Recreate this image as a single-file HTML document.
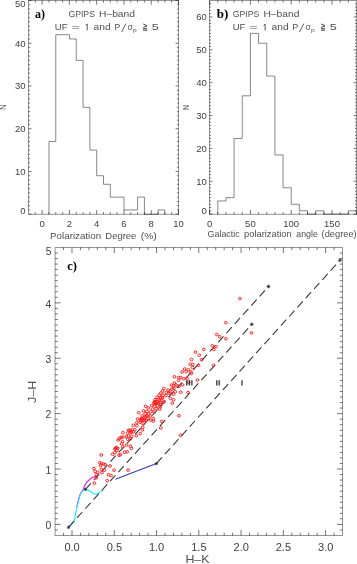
<!DOCTYPE html>
<html><head><meta charset="utf-8"><style>
html,body{margin:0;padding:0;background:#fff;}
svg{display:block;will-change:transform;}
</style></head><body>
<svg width="357" height="564" viewBox="0 0 357 564">
<rect width="357" height="564" fill="#fff"/>
<rect x="28.5" y="0.5" width="150.00" height="213.80" fill="none" stroke="#000" stroke-opacity="0.42" stroke-width="1.0"/>
<path d="M35.32 214.3v-2.1M35.32 0.5v2.1M48.96 214.3v-2.1M48.96 0.5v2.1M55.78 214.3v-2.1M55.78 0.5v2.1M62.59 214.3v-2.1M62.59 0.5v2.1M76.23 214.3v-2.1M76.23 0.5v2.1M83.05 214.3v-2.1M83.05 0.5v2.1M89.87 214.3v-2.1M89.87 0.5v2.1M103.50 214.3v-2.1M103.50 0.5v2.1M110.32 214.3v-2.1M110.32 0.5v2.1M117.14 214.3v-2.1M117.14 0.5v2.1M130.77 214.3v-2.1M130.77 0.5v2.1M137.59 214.3v-2.1M137.59 0.5v2.1M144.41 214.3v-2.1M144.41 0.5v2.1M158.05 214.3v-2.1M158.05 0.5v2.1M164.86 214.3v-2.1M164.86 0.5v2.1M171.68 214.3v-2.1M171.68 0.5v2.1M42.14 214.3v-4.2M42.14 0.5v4.2M69.41 214.3v-4.2M69.41 0.5v4.2M96.68 214.3v-4.2M96.68 0.5v4.2M123.96 214.3v-4.2M123.96 0.5v4.2M151.23 214.3v-4.2M151.23 0.5v4.2M178.50 214.3v-4.2M178.50 0.5v4.2" stroke="#000" stroke-opacity="0.55" stroke-width="1.0" fill="none"/>
<path d="M28.5 209.93h1.5M178.5 209.93h-1.5M28.5 205.65h1.5M178.5 205.65h-1.5M28.5 201.38h1.5M178.5 201.38h-1.5M28.5 197.10h1.5M178.5 197.10h-1.5M28.5 192.83h1.5M178.5 192.83h-1.5M28.5 188.56h1.5M178.5 188.56h-1.5M28.5 184.28h1.5M178.5 184.28h-1.5M28.5 180.01h1.5M178.5 180.01h-1.5M28.5 175.73h1.5M178.5 175.73h-1.5M28.5 167.19h1.5M178.5 167.19h-1.5M28.5 162.91h1.5M178.5 162.91h-1.5M28.5 158.64h1.5M178.5 158.64h-1.5M28.5 154.36h1.5M178.5 154.36h-1.5M28.5 150.09h1.5M178.5 150.09h-1.5M28.5 145.82h1.5M178.5 145.82h-1.5M28.5 141.54h1.5M178.5 141.54h-1.5M28.5 137.27h1.5M178.5 137.27h-1.5M28.5 132.99h1.5M178.5 132.99h-1.5M28.5 124.45h1.5M178.5 124.45h-1.5M28.5 120.17h1.5M178.5 120.17h-1.5M28.5 115.90h1.5M178.5 115.90h-1.5M28.5 111.62h1.5M178.5 111.62h-1.5M28.5 107.35h1.5M178.5 107.35h-1.5M28.5 103.08h1.5M178.5 103.08h-1.5M28.5 98.80h1.5M178.5 98.80h-1.5M28.5 94.53h1.5M178.5 94.53h-1.5M28.5 90.25h1.5M178.5 90.25h-1.5M28.5 81.71h1.5M178.5 81.71h-1.5M28.5 77.43h1.5M178.5 77.43h-1.5M28.5 73.16h1.5M178.5 73.16h-1.5M28.5 68.88h1.5M178.5 68.88h-1.5M28.5 64.61h1.5M178.5 64.61h-1.5M28.5 60.34h1.5M178.5 60.34h-1.5M28.5 56.06h1.5M178.5 56.06h-1.5M28.5 51.79h1.5M178.5 51.79h-1.5M28.5 47.51h1.5M178.5 47.51h-1.5M28.5 38.97h1.5M178.5 38.97h-1.5M28.5 34.69h1.5M178.5 34.69h-1.5M28.5 30.42h1.5M178.5 30.42h-1.5M28.5 26.14h1.5M178.5 26.14h-1.5M28.5 21.87h1.5M178.5 21.87h-1.5M28.5 17.60h1.5M178.5 17.60h-1.5M28.5 13.32h1.5M178.5 13.32h-1.5M28.5 9.05h1.5M178.5 9.05h-1.5M28.5 4.77h1.5M178.5 4.77h-1.5M28.5 214.20h3.0M178.5 214.20h-3.0M28.5 171.46h3.0M178.5 171.46h-3.0M28.5 128.72h3.0M178.5 128.72h-3.0M28.5 85.98h3.0M178.5 85.98h-3.0M28.5 43.24h3.0M178.5 43.24h-3.0M28.5 0.50h3.0M178.5 0.50h-3.0" stroke="#000" stroke-opacity="0.55" stroke-width="1.0" fill="none"/>
<path d="M48.96 214.20V141.54H55.78V34.69H62.59V34.69H69.41V38.97H76.23V60.34H83.05V107.35H89.87V150.09H96.68V175.73H103.50V184.28H110.32V197.10H117.14V197.10H123.96V209.93H130.77V209.93H137.59V197.10H144.41V214.20H151.23V214.20H158.05V209.93H164.86V214.20" stroke="#000" stroke-opacity="0.47" stroke-width="1" fill="none"/>
<rect x="209.5" y="0.5" width="147.00" height="213.80" fill="none" stroke="#000" stroke-opacity="0.42" stroke-width="1.0"/>
<path d="M217.76 214.3v-2.1M217.76 0.5v2.1M225.92 214.3v-2.1M225.92 0.5v2.1M234.08 214.3v-2.1M234.08 0.5v2.1M242.24 214.3v-2.1M242.24 0.5v2.1M258.57 214.3v-2.1M258.57 0.5v2.1M266.73 214.3v-2.1M266.73 0.5v2.1M274.89 214.3v-2.1M274.89 0.5v2.1M283.05 214.3v-2.1M283.05 0.5v2.1M299.37 214.3v-2.1M299.37 0.5v2.1M307.53 214.3v-2.1M307.53 0.5v2.1M315.69 214.3v-2.1M315.69 0.5v2.1M323.85 214.3v-2.1M323.85 0.5v2.1M340.18 214.3v-2.1M340.18 0.5v2.1M348.34 214.3v-2.1M348.34 0.5v2.1M209.60 214.3v-4.2M209.60 0.5v4.2M250.41 214.3v-4.2M250.41 0.5v4.2M291.21 214.3v-4.2M291.21 0.5v4.2M332.01 214.3v-4.2M332.01 0.5v4.2" stroke="#000" stroke-opacity="0.55" stroke-width="1.0" fill="none"/>
<path d="M209.5 210.81h1.5M356.5 210.81h-1.5M209.5 207.53h1.5M356.5 207.53h-1.5M209.5 204.24h1.5M356.5 204.24h-1.5M209.5 200.96h1.5M356.5 200.96h-1.5M209.5 197.67h1.5M356.5 197.67h-1.5M209.5 194.38h1.5M356.5 194.38h-1.5M209.5 191.10h1.5M356.5 191.10h-1.5M209.5 187.81h1.5M356.5 187.81h-1.5M209.5 184.53h1.5M356.5 184.53h-1.5M209.5 177.95h1.5M356.5 177.95h-1.5M209.5 174.67h1.5M356.5 174.67h-1.5M209.5 171.38h1.5M356.5 171.38h-1.5M209.5 168.10h1.5M356.5 168.10h-1.5M209.5 164.81h1.5M356.5 164.81h-1.5M209.5 161.52h1.5M356.5 161.52h-1.5M209.5 158.24h1.5M356.5 158.24h-1.5M209.5 154.95h1.5M356.5 154.95h-1.5M209.5 151.67h1.5M356.5 151.67h-1.5M209.5 145.09h1.5M356.5 145.09h-1.5M209.5 141.81h1.5M356.5 141.81h-1.5M209.5 138.52h1.5M356.5 138.52h-1.5M209.5 135.24h1.5M356.5 135.24h-1.5M209.5 131.95h1.5M356.5 131.95h-1.5M209.5 128.66h1.5M356.5 128.66h-1.5M209.5 125.38h1.5M356.5 125.38h-1.5M209.5 122.09h1.5M356.5 122.09h-1.5M209.5 118.81h1.5M356.5 118.81h-1.5M209.5 112.23h1.5M356.5 112.23h-1.5M209.5 108.95h1.5M356.5 108.95h-1.5M209.5 105.66h1.5M356.5 105.66h-1.5M209.5 102.38h1.5M356.5 102.38h-1.5M209.5 99.09h1.5M356.5 99.09h-1.5M209.5 95.80h1.5M356.5 95.80h-1.5M209.5 92.52h1.5M356.5 92.52h-1.5M209.5 89.23h1.5M356.5 89.23h-1.5M209.5 85.95h1.5M356.5 85.95h-1.5M209.5 79.37h1.5M356.5 79.37h-1.5M209.5 76.09h1.5M356.5 76.09h-1.5M209.5 72.80h1.5M356.5 72.80h-1.5M209.5 69.52h1.5M356.5 69.52h-1.5M209.5 66.23h1.5M356.5 66.23h-1.5M209.5 62.94h1.5M356.5 62.94h-1.5M209.5 59.66h1.5M356.5 59.66h-1.5M209.5 56.37h1.5M356.5 56.37h-1.5M209.5 53.09h1.5M356.5 53.09h-1.5M209.5 46.51h1.5M356.5 46.51h-1.5M209.5 43.23h1.5M356.5 43.23h-1.5M209.5 39.94h1.5M356.5 39.94h-1.5M209.5 36.66h1.5M356.5 36.66h-1.5M209.5 33.37h1.5M356.5 33.37h-1.5M209.5 30.08h1.5M356.5 30.08h-1.5M209.5 26.80h1.5M356.5 26.80h-1.5M209.5 23.51h1.5M356.5 23.51h-1.5M209.5 20.23h1.5M356.5 20.23h-1.5M209.5 13.65h1.5M356.5 13.65h-1.5M209.5 10.37h1.5M356.5 10.37h-1.5M209.5 7.08h1.5M356.5 7.08h-1.5M209.5 3.80h1.5M356.5 3.80h-1.5M209.5 214.10h2.9M356.5 214.10h-2.9M209.5 181.24h2.9M356.5 181.24h-2.9M209.5 148.38h2.9M356.5 148.38h-2.9M209.5 115.52h2.9M356.5 115.52h-2.9M209.5 82.66h2.9M356.5 82.66h-2.9M209.5 49.80h2.9M356.5 49.80h-2.9M209.5 16.94h2.9M356.5 16.94h-2.9" stroke="#000" stroke-opacity="0.55" stroke-width="1.0" fill="none"/>
<path d="M217.76 214.10V200.96H225.92V197.67H234.08V138.52H242.24V95.80H250.41V33.37H258.57V43.23H266.73V76.09H274.89V154.95H283.05V187.81H291.21V204.24H299.37V210.81H307.53V214.10H315.69V210.81H323.85V214.10H332.01V214.10H340.18V214.10H348.34V210.81H356.50V214.10" stroke="#000" stroke-opacity="0.47" stroke-width="1" fill="none"/>
<rect x="55.1" y="247.5" width="287.40" height="288.00" fill="none" stroke="#000" stroke-opacity="0.42" stroke-width="1.0"/>
<path d="M63.55 535.5v-2.7M63.55 247.5v2.7M80.45 535.5v-2.7M80.45 247.5v2.7M88.91 535.5v-2.7M88.91 247.5v2.7M97.36 535.5v-2.7M97.36 247.5v2.7M105.81 535.5v-2.7M105.81 247.5v2.7M122.72 535.5v-2.7M122.72 247.5v2.7M131.17 535.5v-2.7M131.17 247.5v2.7M139.62 535.5v-2.7M139.62 247.5v2.7M148.08 535.5v-2.7M148.08 247.5v2.7M164.98 535.5v-2.7M164.98 247.5v2.7M173.44 535.5v-2.7M173.44 247.5v2.7M181.89 535.5v-2.7M181.89 247.5v2.7M190.34 535.5v-2.7M190.34 247.5v2.7M207.25 535.5v-2.7M207.25 247.5v2.7M215.70 535.5v-2.7M215.70 247.5v2.7M224.15 535.5v-2.7M224.15 247.5v2.7M232.61 535.5v-2.7M232.61 247.5v2.7M249.51 535.5v-2.7M249.51 247.5v2.7M257.97 535.5v-2.7M257.97 247.5v2.7M266.42 535.5v-2.7M266.42 247.5v2.7M274.87 535.5v-2.7M274.87 247.5v2.7M291.78 535.5v-2.7M291.78 247.5v2.7M300.23 535.5v-2.7M300.23 247.5v2.7M308.68 535.5v-2.7M308.68 247.5v2.7M317.14 535.5v-2.7M317.14 247.5v2.7M334.04 535.5v-2.7M334.04 247.5v2.7M72.00 535.5v-5.5M72.00 247.5v5.5M114.27 535.5v-5.5M114.27 247.5v5.5M156.53 535.5v-5.5M156.53 247.5v5.5M198.80 535.5v-5.5M198.80 247.5v5.5M241.06 535.5v-5.5M241.06 247.5v5.5M283.32 535.5v-5.5M283.32 247.5v5.5M325.59 535.5v-5.5M325.59 247.5v5.5" stroke="#000" stroke-opacity="0.55" stroke-width="1.0" fill="none"/>
<path d="M55.1 529.94h2.7M342.5 529.94h-2.7M55.1 518.86h2.7M342.5 518.86h-2.7M55.1 513.32h2.7M342.5 513.32h-2.7M55.1 507.79h2.7M342.5 507.79h-2.7M55.1 502.25h2.7M342.5 502.25h-2.7M55.1 496.71h2.7M342.5 496.71h-2.7M55.1 491.17h2.7M342.5 491.17h-2.7M55.1 485.63h2.7M342.5 485.63h-2.7M55.1 480.10h2.7M342.5 480.10h-2.7M55.1 474.56h2.7M342.5 474.56h-2.7M55.1 463.48h2.7M342.5 463.48h-2.7M55.1 457.94h2.7M342.5 457.94h-2.7M55.1 452.41h2.7M342.5 452.41h-2.7M55.1 446.87h2.7M342.5 446.87h-2.7M55.1 441.33h2.7M342.5 441.33h-2.7M55.1 435.79h2.7M342.5 435.79h-2.7M55.1 430.25h2.7M342.5 430.25h-2.7M55.1 424.72h2.7M342.5 424.72h-2.7M55.1 419.18h2.7M342.5 419.18h-2.7M55.1 408.10h2.7M342.5 408.10h-2.7M55.1 402.56h2.7M342.5 402.56h-2.7M55.1 397.03h2.7M342.5 397.03h-2.7M55.1 391.49h2.7M342.5 391.49h-2.7M55.1 385.95h2.7M342.5 385.95h-2.7M55.1 380.41h2.7M342.5 380.41h-2.7M55.1 374.87h2.7M342.5 374.87h-2.7M55.1 369.34h2.7M342.5 369.34h-2.7M55.1 363.80h2.7M342.5 363.80h-2.7M55.1 352.72h2.7M342.5 352.72h-2.7M55.1 347.18h2.7M342.5 347.18h-2.7M55.1 341.65h2.7M342.5 341.65h-2.7M55.1 336.11h2.7M342.5 336.11h-2.7M55.1 330.57h2.7M342.5 330.57h-2.7M55.1 325.03h2.7M342.5 325.03h-2.7M55.1 319.49h2.7M342.5 319.49h-2.7M55.1 313.96h2.7M342.5 313.96h-2.7M55.1 308.42h2.7M342.5 308.42h-2.7M55.1 297.34h2.7M342.5 297.34h-2.7M55.1 291.80h2.7M342.5 291.80h-2.7M55.1 286.27h2.7M342.5 286.27h-2.7M55.1 280.73h2.7M342.5 280.73h-2.7M55.1 275.19h2.7M342.5 275.19h-2.7M55.1 269.65h2.7M342.5 269.65h-2.7M55.1 264.11h2.7M342.5 264.11h-2.7M55.1 258.58h2.7M342.5 258.58h-2.7M55.1 253.04h2.7M342.5 253.04h-2.7M55.1 524.40h5.5M342.5 524.40h-5.5M55.1 469.02h5.5M342.5 469.02h-5.5M55.1 413.64h5.5M342.5 413.64h-5.5M55.1 358.26h5.5M342.5 358.26h-5.5M55.1 302.88h5.5M342.5 302.88h-5.5" stroke="#000" stroke-opacity="0.55" stroke-width="1.0" fill="none"/>
<polyline points="76.70,507.20 77.80,502.40 79.00,497.70 80.20,494.20 81.80,491.40 83.50,489.30 84.60,485.70 86.20,482.90 88.50,480.60 91.70,477.80 94.80,476.60 97.20,475.80" fill="none" stroke="#f0f" stroke-width="1.1" stroke-linejoin="round"/>
<polyline points="69.10,527.00 71.90,524.20 74.20,521.50 75.00,517.20 75.80,512.50 76.90,507.10 78.10,502.40 79.30,497.70 80.40,494.20 82.00,491.50 83.90,489.90 85.50,489.30 87.80,489.90 90.00,491.00 92.50,493.00 94.60,494.20 96.50,494.00 98.50,493.10 100.50,491.90 102.80,490.40" fill="none" stroke="#10f0ff" stroke-width="1.1" stroke-linejoin="round"/>
<line x1="115.4" y1="479.2" x2="156.4" y2="463.6" stroke="#3838b0" stroke-width="1.1"/>
<line x1="68.5" y1="527.3" x2="251.8" y2="324.3" stroke="#383838" stroke-width="1.1" stroke-dasharray="8.0 4.37" stroke-dashoffset="-0.25"/>
<line x1="85.4" y1="489.4" x2="268.5" y2="286.5" stroke="#383838" stroke-width="1.1" stroke-dasharray="8.0 4.37" stroke-dashoffset="-0.25"/>
<line x1="156.4" y1="463.6" x2="340.0" y2="260.2" stroke="#383838" stroke-width="1.1" stroke-dasharray="8.0 4.37" stroke-dashoffset="-0.25"/>
<path d="M66.8 527.3h3.4M68.5 525.5999999999999v3.4M67.31 526.11l2.38 2.38M67.31 528.49l2.38 -2.38M83.7 489.4h3.4M85.4 487.7v3.4M84.21 488.21l2.38 2.38M84.21 490.59l2.38 -2.38M154.70000000000002 463.6h3.4M156.4 461.90000000000003v3.4M155.21 462.41l2.38 2.38M155.21 464.79l2.38 -2.38M249.9 324.3h3.8M251.8 322.40000000000003v3.8M250.47 322.97l2.66 2.66M250.47 325.63l2.66 -2.66M266.6 286.5h3.8M268.5 284.6v3.8M267.17 285.17l2.66 2.66M267.17 287.83l2.66 -2.66M338.1 260.2h3.8M340.0 258.3v3.8M338.67 258.87l2.66 2.66M338.67 261.53l2.66 -2.66" stroke="#222" stroke-width="0.7" fill="none"/>
<g fill="none" stroke="#ff1a1a" stroke-width="0.95">
<ellipse cx="239.9" cy="298.6" rx="1.4" ry="1.32"/>
<ellipse cx="225.8" cy="322.6" rx="1.4" ry="1.32"/>
<ellipse cx="251.5" cy="332.9" rx="1.4" ry="1.32"/>
<ellipse cx="216.8" cy="334.5" rx="1.4" ry="1.32"/>
<ellipse cx="219.7" cy="336.7" rx="1.4" ry="1.32"/>
<ellipse cx="225.8" cy="338.7" rx="1.4" ry="1.32"/>
<ellipse cx="212.3" cy="345.7" rx="1.4" ry="1.32"/>
<ellipse cx="216.1" cy="346.6" rx="1.4" ry="1.32"/>
<ellipse cx="213.9" cy="349.5" rx="1.4" ry="1.32"/>
<ellipse cx="203.8" cy="349.4" rx="1.4" ry="1.32"/>
<ellipse cx="195.4" cy="352.1" rx="1.4" ry="1.32"/>
<ellipse cx="199.3" cy="355.3" rx="1.4" ry="1.32"/>
<ellipse cx="201.7" cy="359.7" rx="1.4" ry="1.32"/>
<ellipse cx="191.5" cy="359.5" rx="1.4" ry="1.32"/>
<ellipse cx="190.3" cy="364.3" rx="1.4" ry="1.32"/>
<ellipse cx="192.8" cy="364.5" rx="1.4" ry="1.32"/>
<ellipse cx="198.5" cy="365.2" rx="1.4" ry="1.32"/>
<ellipse cx="192.6" cy="367.5" rx="1.4" ry="1.32"/>
<ellipse cx="184.6" cy="369.0" rx="1.4" ry="1.32"/>
<ellipse cx="188.4" cy="369.8" rx="1.4" ry="1.32"/>
<ellipse cx="182.1" cy="371.9" rx="1.4" ry="1.32"/>
<ellipse cx="186.3" cy="371.7" rx="1.4" ry="1.32"/>
<ellipse cx="190.9" cy="371.9" rx="1.4" ry="1.32"/>
<ellipse cx="191.3" cy="373.6" rx="1.4" ry="1.32"/>
<ellipse cx="180.8" cy="377.5" rx="1.4" ry="1.32"/>
<ellipse cx="183.8" cy="378.8" rx="1.4" ry="1.32"/>
<ellipse cx="187.1" cy="378.4" rx="1.4" ry="1.32"/>
<ellipse cx="182.5" cy="384.9" rx="1.4" ry="1.32"/>
<ellipse cx="188.8" cy="382.3" rx="1.4" ry="1.32"/>
<ellipse cx="197.5" cy="380.0" rx="1.4" ry="1.32"/>
<ellipse cx="180.8" cy="392.2" rx="1.4" ry="1.32"/>
<ellipse cx="188.0" cy="392.6" rx="1.4" ry="1.32"/>
<ellipse cx="213.5" cy="365.3" rx="1.4" ry="1.32"/>
<ellipse cx="174.4" cy="376.8" rx="1.4" ry="1.32"/>
<ellipse cx="178.6" cy="377.5" rx="1.4" ry="1.32"/>
<ellipse cx="178.6" cy="380.5" rx="1.4" ry="1.32"/>
<ellipse cx="174.4" cy="383.0" rx="1.4" ry="1.32"/>
<ellipse cx="171.4" cy="385.1" rx="1.4" ry="1.32"/>
<ellipse cx="173.5" cy="385.5" rx="1.4" ry="1.32"/>
<ellipse cx="179.0" cy="386.3" rx="1.4" ry="1.32"/>
<ellipse cx="163.9" cy="388.4" rx="1.4" ry="1.32"/>
<ellipse cx="168.1" cy="390.0" rx="1.4" ry="1.32"/>
<ellipse cx="174.0" cy="388.4" rx="1.4" ry="1.32"/>
<ellipse cx="175.2" cy="391.8" rx="1.4" ry="1.32"/>
<ellipse cx="162.6" cy="391.0" rx="1.4" ry="1.32"/>
<ellipse cx="160.9" cy="393.1" rx="1.4" ry="1.32"/>
<ellipse cx="166.4" cy="392.6" rx="1.4" ry="1.32"/>
<ellipse cx="168.9" cy="393.1" rx="1.4" ry="1.32"/>
<ellipse cx="159.2" cy="395.2" rx="1.4" ry="1.32"/>
<ellipse cx="163.0" cy="395.2" rx="1.4" ry="1.32"/>
<ellipse cx="166.0" cy="395.6" rx="1.4" ry="1.32"/>
<ellipse cx="173.5" cy="394.3" rx="1.4" ry="1.32"/>
<ellipse cx="157.1" cy="397.3" rx="1.4" ry="1.32"/>
<ellipse cx="160.9" cy="397.7" rx="1.4" ry="1.32"/>
<ellipse cx="170.6" cy="398.5" rx="1.4" ry="1.32"/>
<ellipse cx="173.5" cy="399.8" rx="1.4" ry="1.32"/>
<ellipse cx="155.0" cy="399.8" rx="1.4" ry="1.32"/>
<ellipse cx="158.4" cy="399.4" rx="1.4" ry="1.32"/>
<ellipse cx="161.8" cy="400.2" rx="1.4" ry="1.32"/>
<ellipse cx="153.8" cy="402.7" rx="1.4" ry="1.32"/>
<ellipse cx="157.1" cy="401.9" rx="1.4" ry="1.32"/>
<ellipse cx="160.1" cy="402.7" rx="1.4" ry="1.32"/>
<ellipse cx="163.9" cy="401.9" rx="1.4" ry="1.32"/>
<ellipse cx="172.3" cy="403.2" rx="1.4" ry="1.32"/>
<ellipse cx="151.7" cy="405.8" rx="1.4" ry="1.32"/>
<ellipse cx="154.6" cy="406.3" rx="1.4" ry="1.32"/>
<ellipse cx="157.6" cy="405.8" rx="1.4" ry="1.32"/>
<ellipse cx="160.1" cy="406.7" rx="1.4" ry="1.32"/>
<ellipse cx="152.5" cy="409.2" rx="1.4" ry="1.32"/>
<ellipse cx="156.3" cy="408.8" rx="1.4" ry="1.32"/>
<ellipse cx="159.7" cy="409.2" rx="1.4" ry="1.32"/>
<ellipse cx="150.8" cy="411.7" rx="1.4" ry="1.32"/>
<ellipse cx="154.2" cy="412.1" rx="1.4" ry="1.32"/>
<ellipse cx="150.4" cy="415.9" rx="1.4" ry="1.32"/>
<ellipse cx="153.4" cy="418.4" rx="1.4" ry="1.32"/>
<ellipse cx="150.8" cy="420.1" rx="1.4" ry="1.32"/>
<ellipse cx="153.4" cy="421.0" rx="1.4" ry="1.32"/>
<ellipse cx="161.8" cy="421.4" rx="1.4" ry="1.32"/>
<ellipse cx="160.8" cy="427.9" rx="1.4" ry="1.32"/>
<ellipse cx="179.0" cy="415.8" rx="1.4" ry="1.32"/>
<ellipse cx="180.6" cy="435.3" rx="1.4" ry="1.32"/>
<ellipse cx="145.6" cy="406.3" rx="1.4" ry="1.32"/>
<ellipse cx="148.2" cy="407.9" rx="1.4" ry="1.32"/>
<ellipse cx="143.5" cy="410.9" rx="1.4" ry="1.32"/>
<ellipse cx="146.9" cy="411.3" rx="1.4" ry="1.32"/>
<ellipse cx="138.7" cy="412.7" rx="1.4" ry="1.32"/>
<ellipse cx="145.2" cy="413.8" rx="1.4" ry="1.32"/>
<ellipse cx="148.6" cy="414.2" rx="1.4" ry="1.32"/>
<ellipse cx="142.3" cy="415.9" rx="1.4" ry="1.32"/>
<ellipse cx="145.6" cy="416.8" rx="1.4" ry="1.32"/>
<ellipse cx="148.2" cy="418.4" rx="1.4" ry="1.32"/>
<ellipse cx="137.6" cy="418.9" rx="1.4" ry="1.32"/>
<ellipse cx="140.6" cy="419.7" rx="1.4" ry="1.32"/>
<ellipse cx="144.0" cy="420.1" rx="1.4" ry="1.32"/>
<ellipse cx="136.8" cy="422.6" rx="1.4" ry="1.32"/>
<ellipse cx="140.2" cy="422.2" rx="1.4" ry="1.32"/>
<ellipse cx="143.1" cy="423.9" rx="1.4" ry="1.32"/>
<ellipse cx="133.4" cy="425.2" rx="1.4" ry="1.32"/>
<ellipse cx="136.8" cy="425.6" rx="1.4" ry="1.32"/>
<ellipse cx="142.7" cy="427.3" rx="1.4" ry="1.32"/>
<ellipse cx="132.2" cy="429.4" rx="1.4" ry="1.32"/>
<ellipse cx="134.7" cy="429.8" rx="1.4" ry="1.32"/>
<ellipse cx="128.4" cy="430.2" rx="1.4" ry="1.32"/>
<ellipse cx="130.9" cy="431.5" rx="1.4" ry="1.32"/>
<ellipse cx="133.4" cy="431.9" rx="1.4" ry="1.32"/>
<ellipse cx="142.3" cy="429.8" rx="1.4" ry="1.32"/>
<ellipse cx="122.9" cy="432.7" rx="1.4" ry="1.32"/>
<ellipse cx="127.6" cy="433.2" rx="1.4" ry="1.32"/>
<ellipse cx="140.2" cy="433.6" rx="1.4" ry="1.32"/>
<ellipse cx="122.9" cy="437.1" rx="1.4" ry="1.32"/>
<ellipse cx="126.3" cy="436.7" rx="1.4" ry="1.32"/>
<ellipse cx="128.4" cy="435.8" rx="1.4" ry="1.32"/>
<ellipse cx="131.8" cy="436.3" rx="1.4" ry="1.32"/>
<ellipse cx="136.4" cy="435.8" rx="1.4" ry="1.32"/>
<ellipse cx="127.6" cy="439.2" rx="1.4" ry="1.32"/>
<ellipse cx="130.5" cy="438.8" rx="1.4" ry="1.32"/>
<ellipse cx="122.5" cy="441.7" rx="1.4" ry="1.32"/>
<ellipse cx="121.7" cy="443.8" rx="1.4" ry="1.32"/>
<ellipse cx="126.7" cy="445.1" rx="1.4" ry="1.32"/>
<ellipse cx="130.5" cy="446.3" rx="1.4" ry="1.32"/>
<ellipse cx="122.9" cy="446.8" rx="1.4" ry="1.32"/>
<ellipse cx="131.3" cy="448.4" rx="1.4" ry="1.32"/>
<ellipse cx="124.6" cy="452.2" rx="1.4" ry="1.32"/>
<ellipse cx="127.1" cy="451.8" rx="1.4" ry="1.32"/>
<ellipse cx="120.4" cy="454.7" rx="1.4" ry="1.32"/>
<ellipse cx="118.2" cy="440.0" rx="1.4" ry="1.32"/>
<ellipse cx="115.6" cy="448.0" rx="1.4" ry="1.32"/>
<ellipse cx="117.7" cy="448.4" rx="1.4" ry="1.32"/>
<ellipse cx="116.9" cy="450.5" rx="1.4" ry="1.32"/>
<ellipse cx="114.8" cy="452.6" rx="1.4" ry="1.32"/>
<ellipse cx="112.7" cy="454.3" rx="1.4" ry="1.32"/>
<ellipse cx="119.0" cy="455.2" rx="1.4" ry="1.32"/>
<ellipse cx="101.3" cy="455.0" rx="1.4" ry="1.32"/>
<ellipse cx="99.8" cy="462.6" rx="1.4" ry="1.32"/>
<ellipse cx="101.4" cy="463.9" rx="1.4" ry="1.32"/>
<ellipse cx="103.5" cy="463.9" rx="1.4" ry="1.32"/>
<ellipse cx="105.2" cy="464.6" rx="1.4" ry="1.32"/>
<ellipse cx="100.6" cy="465.6" rx="1.4" ry="1.32"/>
<ellipse cx="110.0" cy="466.0" rx="1.4" ry="1.32"/>
<ellipse cx="93.9" cy="468.5" rx="1.4" ry="1.32"/>
<ellipse cx="101.4" cy="469.3" rx="1.4" ry="1.32"/>
<ellipse cx="104.4" cy="470.2" rx="1.4" ry="1.32"/>
<ellipse cx="114.1" cy="470.2" rx="1.4" ry="1.32"/>
<ellipse cx="95.1" cy="471.4" rx="1.4" ry="1.32"/>
<ellipse cx="97.7" cy="472.3" rx="1.4" ry="1.32"/>
<ellipse cx="101.9" cy="472.7" rx="1.4" ry="1.32"/>
<ellipse cx="96.4" cy="474.8" rx="1.4" ry="1.32"/>
<ellipse cx="108.6" cy="474.8" rx="1.4" ry="1.32"/>
<ellipse cx="111.1" cy="475.6" rx="1.4" ry="1.32"/>
<ellipse cx="96.4" cy="477.7" rx="1.4" ry="1.32"/>
<ellipse cx="107.2" cy="480.7" rx="1.4" ry="1.32"/>
<ellipse cx="94.3" cy="483.2" rx="1.4" ry="1.32"/>
<ellipse cx="128.1" cy="470.1" rx="1.4" ry="1.32"/>
<ellipse cx="155.0" cy="401.5" rx="1.4" ry="1.32"/>
<ellipse cx="156.5" cy="403.0" rx="1.4" ry="1.32"/>
<ellipse cx="154.5" cy="403.5" rx="1.4" ry="1.32"/>
<ellipse cx="141.5" cy="418.5" rx="1.4" ry="1.32"/>
<ellipse cx="143.0" cy="420.0" rx="1.4" ry="1.32"/>
<ellipse cx="141.0" cy="420.5" rx="1.4" ry="1.32"/>
<ellipse cx="129.5" cy="430.5" rx="1.4" ry="1.32"/>
<ellipse cx="131.0" cy="432.5" rx="1.4" ry="1.32"/>
<ellipse cx="121.0" cy="437.5" rx="1.4" ry="1.32"/>
<ellipse cx="119.5" cy="438.5" rx="1.4" ry="1.32"/>
<ellipse cx="115.0" cy="449.0" rx="1.4" ry="1.32"/>
<ellipse cx="116.5" cy="447.5" rx="1.4" ry="1.32"/>
<ellipse cx="158.5" cy="403.5" rx="1.4" ry="1.32"/>
<ellipse cx="161.0" cy="404.5" rx="1.4" ry="1.32"/>
<ellipse cx="156.0" cy="404.0" rx="1.4" ry="1.32"/>
<ellipse cx="159.5" cy="400.5" rx="1.4" ry="1.32"/>
<ellipse cx="162.5" cy="398.0" rx="1.4" ry="1.32"/>
<ellipse cx="144.5" cy="417.5" rx="1.4" ry="1.32"/>
<ellipse cx="147.0" cy="416.0" rx="1.4" ry="1.32"/>
<ellipse cx="142.0" cy="419.0" rx="1.4" ry="1.32"/>
<ellipse cx="146.0" cy="420.5" rx="1.4" ry="1.32"/>
<ellipse cx="172.0" cy="389.0" rx="1.4" ry="1.32"/>
<ellipse cx="176.0" cy="385.0" rx="1.4" ry="1.32"/>
<ellipse cx="170.0" cy="392.0" rx="1.4" ry="1.32"/>
</g>
<path d="M186.8 380.2V385.6M189.4 380.2V385.6M191.9 380.2V385.6M216.8 380.2V385.6M219.2 380.2V385.6M242.0 380.2V385.6" stroke="#2a2a2a" stroke-width="1.25" fill="none"/>
<text x="68.4" y="17.2" font-family="'Liberation Sans', sans-serif" font-size="9.0" font-weight="normal" fill="#505050" textLength="26.536" lengthAdjust="spacingAndGlyphs">GPIPS</text>
<text x="99.0" y="17.2" font-family="'Liberation Sans', sans-serif" font-size="9.0" font-weight="normal" fill="#505050" textLength="36.029" lengthAdjust="spacingAndGlyphs">H&#8211;band</text>
<text x="54.8" y="30.4" font-family="'Liberation Sans', sans-serif" font-size="9.0" font-weight="normal" fill="#505050" textLength="12.716" lengthAdjust="spacingAndGlyphs">UF</text>
<text x="71.4" y="30.0" font-family="'Liberation Sans', sans-serif" font-size="9.0" font-weight="normal" fill="#505050" textLength="8.357" lengthAdjust="spacingAndGlyphs">=</text>
<text x="93.6" y="30.4" font-family="'Liberation Sans', sans-serif" font-size="9.0" font-weight="normal" fill="#505050" textLength="17.095" lengthAdjust="spacingAndGlyphs">and</text>
<text x="114.6" y="30.4" font-family="'Liberation Sans', sans-serif" font-size="9.0" font-weight="normal" fill="#505050" textLength="5.743" lengthAdjust="spacingAndGlyphs">P</text>
<text x="127.6" y="30.4" font-family="'Liberation Sans', sans-serif" font-size="9.0" font-weight="normal" fill="#505050" textLength="5.096" lengthAdjust="spacingAndGlyphs">&#963;</text>
<text x="133.0" y="32.4" font-family="'Liberation Sans', sans-serif" font-size="5.0" font-weight="normal" fill="#505050" textLength="3.647" lengthAdjust="spacingAndGlyphs">p</text>
<text x="151.8" y="30.4" font-family="'Liberation Sans', sans-serif" font-size="9.0" font-weight="normal" fill="#505050" textLength="7.062" lengthAdjust="spacingAndGlyphs">5</text>
<text x="232.8" y="17.2" font-family="'Liberation Sans', sans-serif" font-size="9.0" font-weight="normal" fill="#505050" textLength="26.536" lengthAdjust="spacingAndGlyphs">GPIPS</text>
<text x="263.4" y="17.2" font-family="'Liberation Sans', sans-serif" font-size="9.0" font-weight="normal" fill="#505050" textLength="36.029" lengthAdjust="spacingAndGlyphs">H&#8211;band</text>
<text x="232.7" y="30.4" font-family="'Liberation Sans', sans-serif" font-size="9.0" font-weight="normal" fill="#505050" textLength="12.716" lengthAdjust="spacingAndGlyphs">UF</text>
<text x="249.3" y="30.0" font-family="'Liberation Sans', sans-serif" font-size="9.0" font-weight="normal" fill="#505050" textLength="8.357" lengthAdjust="spacingAndGlyphs">=</text>
<text x="271.5" y="30.4" font-family="'Liberation Sans', sans-serif" font-size="9.0" font-weight="normal" fill="#505050" textLength="17.095" lengthAdjust="spacingAndGlyphs">and</text>
<text x="292.5" y="30.4" font-family="'Liberation Sans', sans-serif" font-size="9.0" font-weight="normal" fill="#505050" textLength="5.743" lengthAdjust="spacingAndGlyphs">P</text>
<text x="305.5" y="30.4" font-family="'Liberation Sans', sans-serif" font-size="9.0" font-weight="normal" fill="#505050" textLength="5.096" lengthAdjust="spacingAndGlyphs">&#963;</text>
<text x="310.9" y="32.4" font-family="'Liberation Sans', sans-serif" font-size="5.0" font-weight="normal" fill="#505050" textLength="3.647" lengthAdjust="spacingAndGlyphs">p</text>
<text x="329.7" y="30.4" font-family="'Liberation Sans', sans-serif" font-size="9.0" font-weight="normal" fill="#505050" textLength="7.062" lengthAdjust="spacingAndGlyphs">5</text>
<text x="35.1" y="17.6" font-family="'Liberation Serif', serif" font-size="11.5" font-weight="bold" fill="#000" textLength="10.044" lengthAdjust="spacingAndGlyphs">a)</text>
<text x="216.8" y="17.6" font-family="'Liberation Serif', serif" font-size="11.5" font-weight="bold" fill="#000" textLength="11.56" lengthAdjust="spacingAndGlyphs">b)</text>
<text x="67.2" y="269.6" font-family="'Liberation Serif', serif" font-size="11.5" font-weight="bold" fill="#000" textLength="9.751" lengthAdjust="spacingAndGlyphs">c)</text>
<text x="50.1" y="238.6" font-family="'Liberation Sans', sans-serif" font-size="9.6" font-weight="normal" fill="#505050" textLength="51.008" lengthAdjust="spacingAndGlyphs">Polarization</text>
<text x="105.3" y="238.6" font-family="'Liberation Sans', sans-serif" font-size="9.6" font-weight="normal" fill="#505050" textLength="31.056" lengthAdjust="spacingAndGlyphs">Degree</text>
<text x="140.7" y="238.6" font-family="'Liberation Sans', sans-serif" font-size="9.6" font-weight="normal" fill="#505050" textLength="16.117" lengthAdjust="spacingAndGlyphs">(%)</text>
<text x="207.6" y="236.6" font-family="'Liberation Sans', sans-serif" font-size="9.6" font-weight="normal" fill="#505050" textLength="32.047" lengthAdjust="spacingAndGlyphs">Galactic</text>
<text x="244.1" y="236.6" font-family="'Liberation Sans', sans-serif" font-size="9.6" font-weight="normal" fill="#505050" textLength="47.542" lengthAdjust="spacingAndGlyphs">polarization</text>
<text x="296.3" y="236.6" font-family="'Liberation Sans', sans-serif" font-size="9.6" font-weight="normal" fill="#505050" textLength="21.53" lengthAdjust="spacingAndGlyphs">angle</text>
<text x="321.6" y="236.6" font-family="'Liberation Sans', sans-serif" font-size="9.6" font-weight="normal" fill="#505050" textLength="35.043" lengthAdjust="spacingAndGlyphs">(degree)</text>
<text x="185.4" y="562.6" font-family="'Liberation Sans', sans-serif" font-size="10.2" font-weight="normal" fill="#505050" textLength="24.114" lengthAdjust="spacingAndGlyphs">H&#8211;K</text>
<text transform="translate(35.8 402.9) rotate(-90)" x="0" y="0" font-family="'Liberation Sans', sans-serif" font-size="10.2" font-weight="normal" fill="#505050" textLength="22.176" lengthAdjust="spacingAndGlyphs">J&#8211;H</text>
<text transform="translate(6.0 110.1) rotate(-90)" x="0" y="0" font-family="'Liberation Sans', sans-serif" font-size="9.6" font-weight="normal" fill="#505050" textLength="5.734" lengthAdjust="spacingAndGlyphs">N</text>
<text transform="translate(188.9 110.0) rotate(-90)" x="0" y="0" font-family="'Liberation Sans', sans-serif" font-size="9.6" font-weight="normal" fill="#505050" textLength="5.0" lengthAdjust="spacingAndGlyphs">N</text>
<path d="M85.7 25.5L87.2 24.1V30.4" stroke="#404040" stroke-width="0.9" fill="none"/>
<path d="M121.6 32.0L125.9 23.6" stroke="#404040" stroke-width="0.85" fill="none"/>
<path d="M143.3 24.0L147.1 25.8L143.3 27.5M143.1 28.7H147.2M143.1 30.2H147.2" stroke="#404040" stroke-width="1.0" fill="none"/>
<path d="M263.6 25.5L265.1 24.1V30.4" stroke="#404040" stroke-width="0.9" fill="none"/>
<path d="M299.5 32.0L303.8 23.6" stroke="#404040" stroke-width="0.85" fill="none"/>
<path d="M321.2 24.0L325.0 25.8L321.2 27.5M321.0 28.7H325.1M321.0 30.2H325.1" stroke="#404040" stroke-width="1.0" fill="none"/>
<g fill="#404040" font-family="'Liberation Sans', sans-serif">
<text x="42.1" y="227.2" font-size="9.5" text-anchor="middle" >0</text>
<text x="69.4" y="227.2" font-size="9.5" text-anchor="middle" >2</text>
<text x="96.7" y="227.2" font-size="9.5" text-anchor="middle" >4</text>
<text x="124.0" y="227.2" font-size="9.5" text-anchor="middle" >6</text>
<text x="151.2" y="227.2" font-size="9.5" text-anchor="middle" >8</text>
<text x="178.5" y="227.2" font-size="9.5" text-anchor="middle" >10</text>
<text x="25.6" y="174.8" font-size="9.5" text-anchor="end" >10</text>
<text x="25.6" y="132.0" font-size="9.5" text-anchor="end" >20</text>
<text x="25.6" y="89.3" font-size="9.5" text-anchor="end" >30</text>
<text x="25.6" y="46.5" font-size="9.5" text-anchor="end" >40</text>
<text x="25.6" y="213.9" font-size="9.5" text-anchor="end" >0</text>
<text x="25.6" y="7.2" font-size="9.5" text-anchor="end" >50</text>
<text x="209.6" y="227.2" font-size="9.5" text-anchor="middle" >0</text>
<text x="250.4" y="227.2" font-size="9.5" text-anchor="middle" >50</text>
<text x="291.2" y="227.2" font-size="9.5" text-anchor="middle" >100</text>
<text x="332.0" y="227.2" font-size="9.5" text-anchor="middle" >150</text>
<text x="206.8" y="184.5" font-size="9.5" text-anchor="end" >10</text>
<text x="206.8" y="151.7" font-size="9.5" text-anchor="end" >20</text>
<text x="206.8" y="118.8" font-size="9.5" text-anchor="end" >30</text>
<text x="206.8" y="86.0" font-size="9.5" text-anchor="end" >40</text>
<text x="206.8" y="53.1" font-size="9.5" text-anchor="end" >50</text>
<text x="206.8" y="20.2" font-size="9.5" text-anchor="end" >60</text>
<text x="206.8" y="213.9" font-size="9.5" text-anchor="end" >0</text>
<text x="72.1" y="551.0" font-size="10.4" text-anchor="middle" textLength="15.4" lengthAdjust="spacingAndGlyphs">0.0</text>
<text x="114.4" y="551.0" font-size="10.4" text-anchor="middle" textLength="15.4" lengthAdjust="spacingAndGlyphs">0.5</text>
<text x="156.6" y="551.0" font-size="10.4" text-anchor="middle" textLength="15.4" lengthAdjust="spacingAndGlyphs">1.0</text>
<text x="198.9" y="551.0" font-size="10.4" text-anchor="middle" textLength="15.4" lengthAdjust="spacingAndGlyphs">1.5</text>
<text x="241.2" y="551.0" font-size="10.4" text-anchor="middle" textLength="15.4" lengthAdjust="spacingAndGlyphs">2.0</text>
<text x="283.4" y="551.0" font-size="10.4" text-anchor="middle" textLength="15.4" lengthAdjust="spacingAndGlyphs">2.5</text>
<text x="325.7" y="551.0" font-size="10.4" text-anchor="middle" textLength="15.4" lengthAdjust="spacingAndGlyphs">3.0</text>
<text x="51.3" y="529.0" font-size="10.4" text-anchor="end" >0</text>
<text x="51.3" y="473.6" font-size="10.4" text-anchor="end" >1</text>
<text x="51.3" y="418.2" font-size="10.4" text-anchor="end" >2</text>
<text x="51.3" y="362.9" font-size="10.4" text-anchor="end" >3</text>
<text x="51.3" y="307.5" font-size="10.4" text-anchor="end" >4</text>
<text x="51.6" y="254.6" font-size="10.4" text-anchor="end" >5</text>
</g>
</svg>
</body></html>
